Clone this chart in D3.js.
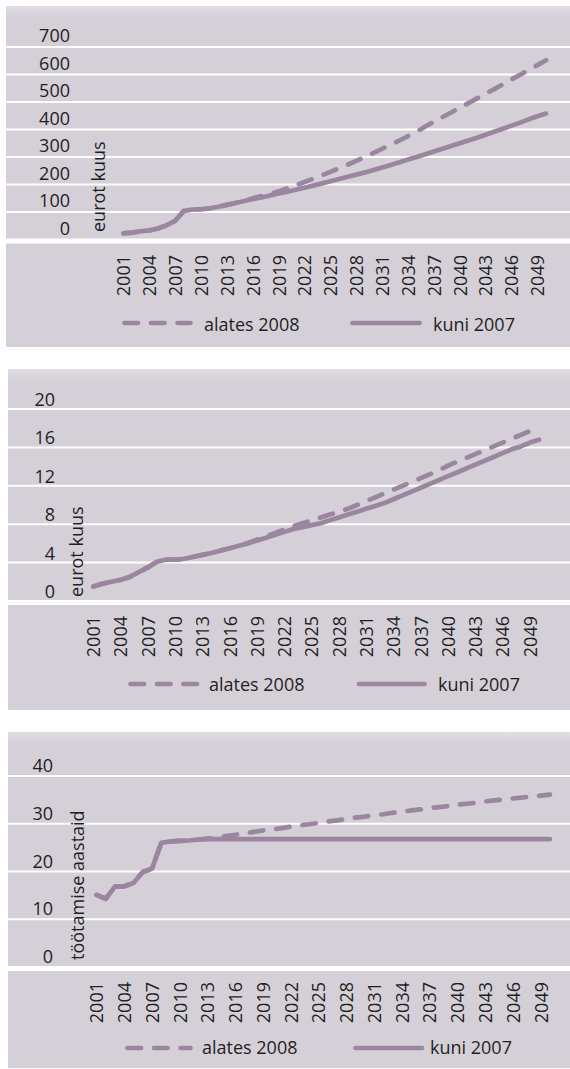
<!DOCTYPE html>
<html><head><meta charset="utf-8">
<script src="https://cdn.jsdelivr.net/npm/d3@7"></script>
<style>
body{margin:0;background:#fff;}
svg text{font-family:"Open Sans",sans-serif;fill:#1f1f1f;}
</style></head><body>
<svg id="c" width="570" height="1069"></svg>
<script>
// ---------- data ----------
const years = [2001,2002,2003,2004,2005,2006,2007,2008,2009,2010,
  2011,2012,2013,2014,2015,2016,2017,2018,2019,2020,
  2021,2022,2023,2024,2025,2026,2027,2028,2029,2030,
  2031,2032,2033,2034,2035,2036,2037,2038,2039,2040,
  2041,2042,2043,2044,2045,2046,2047,2048,2049,2050];
const xTickYears = [2001,2004,2007,2010,2013,2016,2019,2022,2025,2028,2031,2034,2037,2040,2043,2046,2049];
const seriesNames = ["alates 2008", "kuni 2007"];

const p1Title = "eurot kuus";
const p1Ticks = [0,100,200,300,400,500,600,700];
const p1Alates = [22,25,30,33,40,52,68,104,109,110,113,119,126,133,140,
  150,158,166,175,186,197,209,221,233,246,259,272,286,300,315,
  330,345,360,376,392,411,428,445,462,479,496,513,530,547,564,
  582,599,617,634,652];
const p1Kuni = [22,25,30,33,40,52,68,104,109,110,113,119,126,133,140,
  147,153,160,167,174,181,188,196,204,212,220,228,236,244,253,
  262,271,281,291,300,310,320,330,340,350,360,370,381,392,403,
  414,425,437,448,458];

const p2Title = "eurot kuus";
const p2Ticks = [0,4,8,12,16,20];
const p2Alates = [1.5,1.8,2.0,2.2,2.5,3.0,3.5,4.1,4.3,4.3,4.4,4.6,4.8,5.0,5.25,5.5,5.75,
  6.05,6.4,6.75,7.1,7.45,7.8,8.1,8.4,8.7,9.0,9.3,9.6,10.0,
  10.4,10.8,11.2,11.6,12.0,12.4,12.8,13.2,13.6,14.1,
  14.5,14.9,15.3,15.7,16.1,16.5,16.9,17.3,17.7,18.0];
const p2Kuni = [1.5,1.8,2.0,2.2,2.5,3.0,3.5,4.1,4.3,4.3,4.4,4.6,4.8,5.0,5.25,5.5,5.75,
  6.0,6.3,6.6,6.9,7.2,7.5,7.7,7.9,8.1,8.4,8.7,9.0,9.3,
  9.6,9.9,10.2,10.6,11.0,11.4,11.8,12.2,12.6,13.0,
  13.4,13.8,14.2,14.6,15.0,15.4,15.8,16.1,16.5,16.8];

const p3Title = "töötamise aastaid";
const p3Ticks = [0,10,20,30,40];
const p3Alates = [15.1,14.3,16.9,16.9,17.6,19.9,20.6,26.0,26.3,26.4,26.5,26.7,26.9,
  27.1,27.4,27.7,28.0,28.3,28.6,28.8,29.1,29.4,29.7,29.9,30.2,30.5,30.7,31.0,31.3,31.5,
  31.8,32.0,32.3,32.5,32.8,33.0,33.3,33.5,33.7,34.0,34.2,34.4,34.7,34.9,35.1,35.3,35.5,35.7,35.9,36.1];
const p3Kuni = [15.1,14.3,16.9,16.9,17.6,19.9,20.6,26.0,26.3,26.4,26.5,26.7,26.8,
  26.8,26.8,26.8,26.8,26.8,26.8,26.8,26.8,26.8,26.8,26.8,26.8,26.8,26.8,26.8,26.8,26.8,
  26.8,26.8,26.8,26.8,26.8,26.8,26.8,26.8,26.8,26.8,26.8,26.8,26.8,26.8,26.8,26.8,26.8,26.8,26.8,26.8];

// ---------- style ----------
const BG = "#d5cfd7", LINE = "#9b86a0", FS = 18, SW = 4.7, DASH = "13.5,13";

const svg = d3.select("#c");
const defs = svg.append("defs");
const grad = defs.append("linearGradient").attr("id","topg").attr("x1",0).attr("y1",0).attr("x2",0).attr("y2",1);
grad.append("stop").attr("offset",0).attr("stop-color","#e2dde4");
grad.append("stop").attr("offset",1).attr("stop-color",BG);

function panel(cfg, title, ticks, alates, kuni) {
  const g = svg.append("g");
  g.append("rect").attr("x",cfg.bx).attr("y",cfg.by).attr("width",cfg.bw).attr("height",cfg.bh).attr("fill",BG);
  g.append("rect").attr("x",cfg.bx).attr("y",cfg.by).attr("width",cfg.bw).attr("height",12).attr("fill","url(#topg)");

  const x = d3.scalePoint().domain(years).range(cfg.xr);
  const y = d3.scaleLinear().domain(cfg.yd).range(cfg.yr);

  // gridlines
  g.selectAll("line.grid").data(ticks.filter(t => t !== 0)).join("line")
    .attr("x1",cfg.bx).attr("x2",cfg.bx+cfg.bw)
    .attr("y1",d=>y(d)).attr("y2",d=>y(d))
    .attr("stroke","#fff").attr("stroke-width",2);
  g.append("rect").attr("x",cfg.bx).attr("y",y(0)-1).attr("width",cfg.bw).attr("height",5).attr("fill","#fff");

  // y axis labels
  const ya = g.append("g").attr("transform",`translate(${cfg.ylx},0)`)
    .call(d3.axisLeft(y).tickValues(ticks).tickSize(0).tickPadding(0).tickFormat(d3.format("d")));
  ya.select(".domain").remove();
  ya.selectAll("text").attr("font-size",FS).attr("font-family","Open Sans").attr("fill","#1f1f1f")
    .attr("dy",null).attr("y",cfg.yldy).attr("text-anchor","end");

  // y title
  g.append("text").attr("transform",`translate(${cfg.tx},${cfg.ty}) rotate(-90)`)
    .attr("font-size",FS).attr("text-anchor","start").text(title);

  // x axis labels
  const xa = g.append("g").attr("transform",`translate(0,${cfg.xlt})`)
    .call(d3.axisBottom(x).tickValues(xTickYears).tickSize(0).tickPadding(0).tickFormat(d3.format("d")));
  xa.select(".domain").remove();
  xa.selectAll("text").attr("font-size",FS).attr("font-family","Open Sans").attr("fill","#1f1f1f")
    .attr("y",0).attr("dy","0.35em").attr("transform","rotate(-90)").attr("text-anchor","end");

  // lines
  const line = d3.line().x((d,i)=>x(years[i])).y(d=>y(d));
  g.append("path").attr("d",line(alates)).attr("fill","none").attr("stroke",LINE)
    .attr("stroke-width",SW).attr("stroke-dasharray",DASH).attr("stroke-linecap","round").attr("stroke-linejoin","round");
  g.append("path").attr("d",line(kuni)).attr("fill","none").attr("stroke",LINE)
    .attr("stroke-width",SW).attr("stroke-linecap","round").attr("stroke-linejoin","round");

  // legend
  const L = cfg.leg;
  g.append("line").attr("x1",L.d1).attr("x2",L.d2).attr("y1",L.y).attr("y2",L.y)
    .attr("stroke",LINE).attr("stroke-width",SW).attr("stroke-dasharray",DASH).attr("stroke-linecap","round");
  g.append("text").attr("x",L.dt).attr("y",L.y+L.bo).attr("font-size",FS).text(seriesNames[0]);
  g.append("line").attr("x1",L.s1).attr("x2",L.s2).attr("y1",L.y).attr("y2",L.y)
    .attr("stroke",LINE).attr("stroke-width",SW).attr("stroke-linecap","round");
  g.append("text").attr("x",L.st).attr("y",L.y+L.bo).attr("font-size",FS).text(seriesNames[1]);
}

panel({bx:6,by:6,bw:564,bh:341, yd:[0,800], yr:[239.5,19.5], xr:[123.5,546],
  ylx:70, yldy:-5.5, tx:105, ty:232, xlt:255,
  leg:{y:323, bo:8, d1:124.5, d2:190.5, dt:204, s1:352.5, s2:419.5, st:433}},
  p1Title, p1Ticks, p1Alates, p1Kuni);

panel({bx:8,by:369,bw:562,bh:341, yd:[0,24], yr:[601,370.6], xr:[93.3,539],
  ylx:55, yldy:-3.5, tx:83, ty:597, xlt:616,
  leg:{y:684, bo:6.5, d1:130.5, d2:197.5, dt:209, s1:359, s2:424.5, st:438}},
  p2Title, p2Ticks, p2Alates, p2Kuni);

panel({bx:8,by:732,bw:562,bh:336, yd:[0,50], yr:[967,728.3], xr:[96.5,550],
  ylx:53, yldy:-4.5, tx:83.5, ty:960, xlt:982,
  leg:{y:1048, bo:6, d1:127.5, d2:190.5, dt:202, s1:355.5, s2:422, st:430}},
  p3Title, p3Ticks, p3Alates, p3Kuni);
</script>
</body></html>
